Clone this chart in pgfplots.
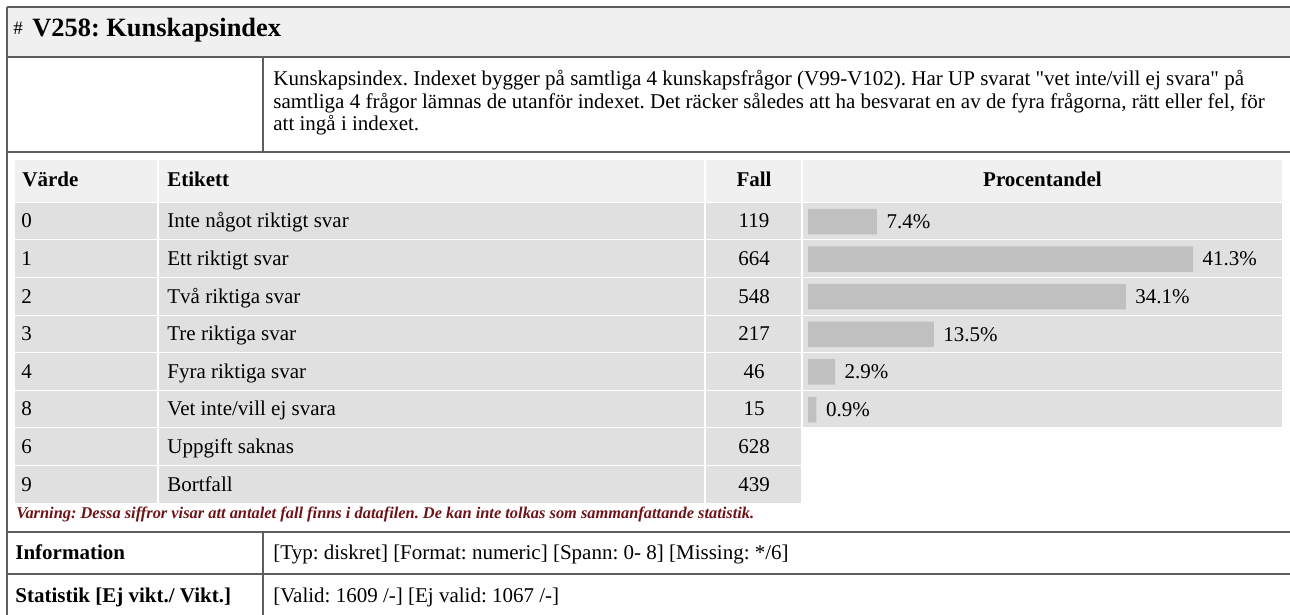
\documentclass[border=0pt]{standalone}
\usepackage{pgfplots}
\pgfplotsset{compat=1.18}
\usepackage{pgfplotstable}
\usepackage{fontspec}
\setmainfont{Liberation Serif}[Ligatures=TeXOff]
\frenchspacing
\definecolor{hdr}{HTML}{F0F0F0}
\definecolor{cell}{HTML}{E0E0E0}
\definecolor{barc}{HTML}{C0C0C0}
\definecolor{rulec}{HTML}{5E5E5E}
\definecolor{warn}{HTML}{6E1418}
\pgfplotstableread{
idx pct
0 7.4
1 41.3
2 34.1
3 13.5
4 2.9
5 0.9
}\pcttable
\newcommand\bodyf{\fontsize{10.5pt}{12pt}\selectfont}
\begin{document}
\begin{tikzpicture}
\useasboundingbox (0,0) rectangle (645pt,-307.5pt);
\begin{scope}[x=0.5pt,y=-0.5pt]
% title row
\fill[hdr] (7,7) rectangle (1290,57);
\node[anchor=base west, inner sep=0] at (13,35) {\fontsize{9.5pt}{10pt}\selectfont \#};
\node[anchor=base west, inner sep=0] at (32,37) {\fontsize{13.2pt}{15pt}\selectfont\bfseries V258: Kunskapsindex};
% description
\begin{scope}[every node/.style={anchor=base west, inner sep=0, font=\bodyf}]
\node at (273,86) {Kunskapsindex. Indexet bygger på samtliga 4 kunskapsfrågor (V99-V102). Har UP svarat "vet inte/vill ej svara" på};
\node at (273,108.5) {samtliga 4 frågor lämnas de utanför indexet. Det räcker således att ha besvarat en av de fyra frågorna, rätt eller fel, för};
\node at (273,131) {att ingå i indexet.};
\end{scope}
% header row
\fill[hdr] (15,160) rectangle (157,201.7);
\fill[hdr] (159,160) rectangle (704,201.7);
\fill[hdr] (706,160) rectangle (801,201.7);
\fill[hdr] (803,160) rectangle (1282,201.7);
\begin{scope}[every node/.style={inner sep=0, font=\bodyf\bfseries}]
\node[anchor=base west] at (22,186.7) {Värde};
\node[anchor=base west] at (167,186.7) {Etikett};
\node[anchor=base] at (754,186.7) {Fall};
\node[anchor=base] at (1042.5,186.7) {Procentandel};
\end{scope}
% data rows
\foreach \v/\l/\f [count=\i from 0] in {0/{Inte något riktigt svar}/119, 1/{Ett riktigt svar}/664, 2/{Två riktiga svar}/548, 3/{Tre riktiga svar}/217, 4/{Fyra riktiga svar}/46, 8/{Vet inte/vill ej svara}/15, 6/{Uppgift saknas}/628, 9/{Bortfall}/439}{
  \fill[cell] (15,{202.7+37.6*\i}) rectangle (157,{239.3+37.6*\i});
  \fill[cell] (159,{202.7+37.6*\i}) rectangle (704,{239.3+37.6*\i});
  \fill[cell] (706,{202.7+37.6*\i}) rectangle (801,{239.3+37.6*\i});
  \ifnum\i<6 \fill[cell] (803,{202.7+37.6*\i}) rectangle (1282,{239.3+37.6*\i});\fi
  \node[anchor=base west, inner sep=0, font=\bodyf] at (21,{227.8+37.6*\i}) {\v};
  \node[anchor=base west, inner sep=0, font=\bodyf] at (167,{227.8+37.6*\i}) {\l};
  \node[anchor=base, inner sep=0, font=\bodyf] at (754,{227.8+37.6*\i}) {\f};
}
% warning
\node[anchor=base west, inner sep=0, text=warn] at (16,518) {\fontsize{8.2pt}{10pt}\selectfont\bfseries\itshape Varning: Dessa siffror visar att antalet fall finns i datafilen. De kan inte tolkas som sammanfattande statistik.};
% information rows
\node[anchor=base west, inner sep=0, font=\bodyf\bfseries] at (15,559) {Information};
\node[anchor=base west, inner sep=0, font=\bodyf] at (273,559) {[Typ: diskret] [Format: numeric] [Spann: 0- 8] [Missing: */6]};
\node[anchor=base west, inner sep=0, font=\bodyf\bfseries] at (15,602) {Statistik [Ej vikt./ Vikt.]};
\node[anchor=base west, inner sep=0, font=\bodyf] at (273,602) {[Valid: 1609 /-] [Ej valid: 1067 /-]};
% rules
\begin{scope}[rulec, line width=0.7pt]
\draw (7,7) -- (1290,7);
\draw (7,57) -- (1290,57);
\draw (7,152) -- (1290,152);
\draw (7,532) -- (1290,532);
\draw (7,574) -- (1290,574);
\draw (7,7) -- (7,615);
\draw (263,57) -- (263,152);
\draw (263,532) -- (263,615);
\end{scope}
\end{scope}
\begin{axis}[
  at={(404pt,-101.35pt)}, anchor=north west,
  scale only axis, x=4.661pt, y=18.8pt, y dir=reverse,
  xmin=0, xmax=50.85, ymin=-0.5, ymax=5.5,
  hide axis, clip=false,
  xbar, bar width=12.75pt,
  point meta=x,
  /pgf/number format/assume math mode=true,
  nodes near coords={\pgfmathprintnumber[fixed,fixed zerofill,precision=1]{\pgfplotspointmeta}\%},
  nodes near coords align=horizontal,
  every node near coord/.append style={font=\bodyf, inner sep=0pt, xshift=4.6pt, text=black, anchor=west},
]
\addplot[fill=barc, draw=none] table[x=pct, y=idx] {\pcttable};
\end{axis}
\end{tikzpicture}
\end{document}
